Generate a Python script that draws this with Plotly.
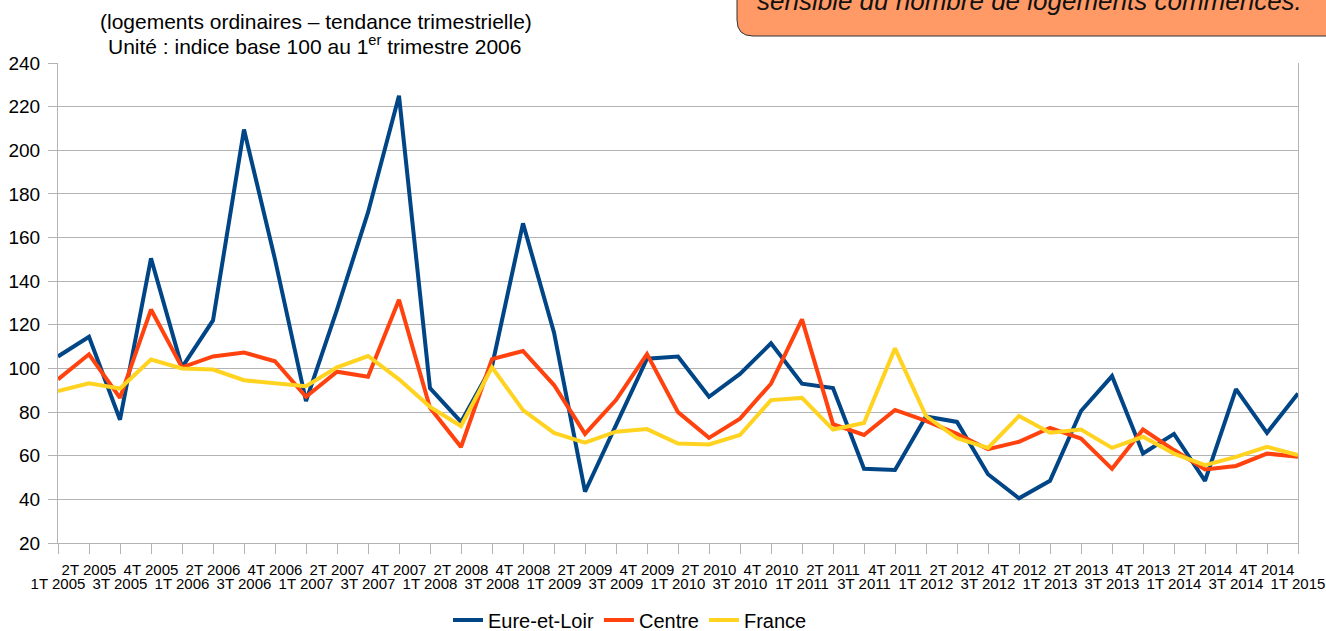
import plotly.graph_objects as go

quarters = []
for yr in range(2005, 2015):
    for q in range(1, 5):
        quarters.append(f"{q}T {yr}")
quarters.append("1T 2015")

eure_et_loir = [105.5, 114.5, 76.5, 150.5, 100.5, 122, 209.5, 150, 85, 127,
                171.5, 225, 91, 75.5, 101, 166.5, 116.5, 43.5, 74, 104.5,
                105.5, 87, 97.5, 111.5, 93, 91, 54, 53.5, 78, 75.5,
                51.5, 40.5, 48.5, 80.5, 96.5, 61, 70, 48.5, 90.5, 70.5, 88.5]
centre = [95, 106.5, 86.5, 127, 100.5, 105.5, 107.3, 103.3, 87, 98.5,
          96.2, 131.5, 82, 64, 104.3, 108, 92.4, 70, 85.5, 106.6,
          80, 68.2, 77, 93, 122.5, 74.5, 69.5, 81, 76, 70,
          63, 66.4, 72.8, 67.9, 54, 72, 62.6, 53.7, 55.3, 61, 59.5]
france = [89.6, 93.2, 90.8, 104.1, 100, 99.5, 94.6, 93.2, 91.9, 100.5,
          105.7, 95, 82.4, 73.6, 100.5, 80.9, 70.5, 66, 71, 72.2,
          65.6, 65.2, 69.5, 85.5, 86.5, 72, 75, 109.2, 78.2, 68,
          63.6, 78.2, 70.5, 72, 63.6, 68.7, 61, 55.7, 59.5, 64.1, 60.3]

series_names = ["Eure-et-Loir", "Centre", "France"]
colors = ["#004586", "#ff420e", "#ffd320"]

idx = list(range(len(quarters)))

W, H = 1326, 631
L, R, T, B = 58, 28, 63, 88
PW, PH = W - L - R, H - T - B


def px(xp):
    return (xp - L) / PW


def py(yp):
    return (H - B - yp) / PH


fig = go.Figure()
for name, vals, col in zip(series_names, [eure_et_loir, centre, france], colors):
    fig.add_trace(go.Scatter(x=idx, y=vals, mode="lines", name=name,
                             line=dict(color=col, width=4)))

font_family = "Liberation Sans, Arial, sans-serif"
grid = "#b3b3b3"

odd = idx[1::2]
even = idx[0::2]

fig.update_layout(
    width=W, height=H,
    margin=dict(l=L, r=R, t=T, b=B, pad=0, autoexpand=False),
    paper_bgcolor="white", plot_bgcolor="white",
    font=dict(family=font_family, color="#000000"),
    showlegend=True,
    legend=dict(orientation="h", x=px(630), y=py(620), xanchor="center",
                yanchor="middle", font=dict(size=20, family=font_family),
                itemwidth=30, bgcolor="rgba(0,0,0,0)"),
    xaxis=dict(range=[0, len(quarters) - 1], tickmode="array", tickvals=odd,
               ticktext=[quarters[i] for i in odd], ticks="outside", ticklen=10,
               tickcolor=grid, showgrid=False, showline=True, linecolor=grid,
               linewidth=1, tickangle=0, tickfont=dict(size=15),
               ticklabelstandoff=3, zeroline=False, automargin=False),
    xaxis2=dict(range=[0, len(quarters) - 1], overlaying="x", side="bottom",
                tickmode="array", tickvals=even,
                ticktext=[quarters[i] for i in even], ticks="outside", ticklen=10,
                tickcolor=grid, showgrid=False, showline=False, tickangle=0,
                tickfont=dict(size=15), ticklabelstandoff=17, zeroline=False,
                automargin=False),
    yaxis=dict(range=[20, 240], dtick=20, tick0=20, ticks="outside", ticklen=9,
               tickcolor=grid, showgrid=True, gridcolor=grid, gridwidth=1,
               showline=True, linecolor=grid, mirror=True, zeroline=False,
               tickfont=dict(size=19), ticklabelstandoff=4, automargin=False),
)

# invisible trace that carries the second (even-quarter) label row
fig.add_trace(go.Scatter(x=[0, len(quarters) - 1], y=[None, None], xaxis="x2",
                         showlegend=False, hoverinfo="skip", mode="lines"))

fig.add_annotation(text="(logements ordinaires \u2013 tendance trimestrielle)",
                   xref="paper", yref="paper", x=px(316), y=py(21),
                   xanchor="center", yanchor="middle", showarrow=False,
                   font=dict(size=21))
fig.add_annotation(text="Unit\u00e9 : indice base 100 au 1<sup>er</sup> trimestre 2006",
                   xref="paper", yref="paper", x=px(314), y=py(45),
                   xanchor="center", yanchor="middle", showarrow=False,
                   font=dict(size=21))

# callout box (top right)
x0, x1 = px(737), px(1340)
yt, yb = py(-20), py(36)
rx, ry = 16 / PW, 16 / PH
path = (f"M {x0},{yt} L {x0},{yb + ry} Q {x0},{yb} {x0 + rx},{yb} "
        f"L {x1},{yb} L {x1},{yt} Z")
fig.add_shape(type="path", path=path, xref="paper", yref="paper",
              fillcolor="#ff9966", line=dict(color="#333333", width=1), layer="below")
fig.add_annotation(text="<i>sensible du nombre de logements commenc\u00e9s.</i>",
                   xref="paper", yref="paper", x=px(755), y=py(18),
                   xanchor="left", yanchor="bottom", showarrow=False,
                   font=dict(size=26, color="#111111"))

fig.write_html("out.html", config={"displayModeBar": False},
               post_script="document.body.style.margin='0';"
                           "document.body.style.padding='0';")
